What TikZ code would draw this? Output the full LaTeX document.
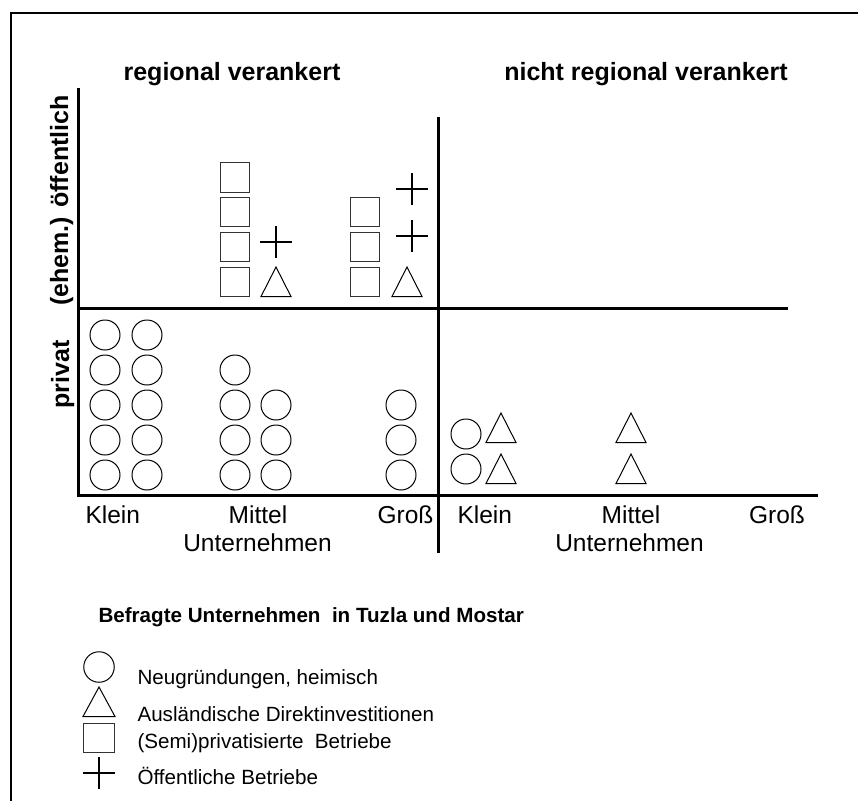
\documentclass[tikz,border=0pt]{standalone}
\usepackage{fontspec}
\setmainfont{Liberation Sans}
\usepackage{tikz}
\usetikzlibrary{shapes.geometric,shapes.misc}
\newcommand{\titlefont}[0] {\fontsize{25}{30}\selectfont\bfseries}
\newcommand{\axisfont}[0] {\fontsize{24.5}{29}\selectfont}
\newcommand{\legfont}[0] {\fontsize{20.6}{25}\selectfont}

\tikzset{
  circ/.style={shape=circle,draw=black,line width=1pt,minimum size=30pt,inner sep=0pt},
  sq/.style={shape=rectangle,draw=black!80,line width=1pt,minimum size=29.5pt,inner sep=0pt},
  tri/.style={shape=isosceles triangle,isosceles triangle stretches,shape border rotate=90,
    draw=black,line width=1pt,minimum width=30pt,minimum height=29.5pt,inner sep=0pt,anchor=lower side},
  crs/.style={shape=cross out,rotate=45,draw=black,line width=1.1pt,minimum size=21.5pt,inner sep=0pt},
  axis/.style={line width=3pt},
}

\begin{document}
\begin{tikzpicture}[x=1pt,y=-1pt]
        \useasboundingbox (0,0) rectangle (858,800);
        \draw[line width=2.5pt] (11,810) -- (11,13) -- (870,13);

        % axes
        \coordinate (top) at (78,88);
        \coordinate (o) at (78,495);
        \coordinate (xend) at (818,495);
        \coordinate (ml) at (78,308);
        \coordinate (mr) at (788,308);
        \coordinate (mt) at (438,117);
        \coordinate (mb) at (438,553);
        \draw[axis] (top) -- (o) -- (xend);
        \draw[axis] (ml) -- (mr);
        \draw[axis] (mt) -- (mb);

        % headings
        \node[anchor=base] (reg) at (232,80) {\titlefont regional verankert};
        \node[anchor=base] (nreg) at (646,80) {\titlefont nicht regional verankert};
        \node[anchor=base,rotate=90] (oeff) at (68,200.5) {\titlefont (ehem.) öffentlich};
        \node[anchor=base,rotate=90] (priv) at (69,374.5) {\titlefont privat};

        % size classes
        \node[anchor=base west] (k1) at (82,523) {\axisfont Klein};
        \node[anchor=base] (m1) at (258,523) {\axisfont Mittel};
        \node[anchor=base] (u1) at (257.5,551) {\axisfont Unternehmen};
        \node[anchor=base] (g1) at (405.5,523) {\axisfont Groß};
        \node[anchor=base west] (k2) at (454,523) {\axisfont Klein};
        \node[anchor=base] (m2) at (631,523) {\axisfont Mittel};
        \node[anchor=base] (u2) at (629.5,551) {\axisfont Unternehmen};
        \node[anchor=base] (g2) at (777,523) {\axisfont Groß};

        % public, regional
        \node[sq] (s1) at (235,177.5) {};
        \node[sq] (s2) at (235,212) {};
        \node[sq] (s3) at (235,247) {};
        \node[sq] (s4) at (235,282) {};
        \node[crs] (p1) at (276,242) {};
        \node[tri] (t1) at (276,297) {};
        \node[sq] (s5) at (365,212) {};
        \node[sq] (s6) at (365,247) {};
        \node[sq] (s7) at (365,282) {};
        \node[crs] (p2) at (412,189) {};
        \node[crs] (p3) at (412,236) {};
        \node[tri] (t2) at (407,297) {};

        % private, regional
        \node[circ] (c1) at (105,335) {};
        \node[circ] (c2) at (105,370) {};
        \node[circ] (c3) at (105,405) {};
        \node[circ] (c4) at (105,440) {};
        \node[circ] (c5) at (105,475) {};
        \node[circ] (c6) at (147,335) {};
        \node[circ] (c7) at (147,370) {};
        \node[circ] (c8) at (147,405) {};
        \node[circ] (c9) at (147,440) {};
        \node[circ] (c10) at (147,475) {};
        \node[circ] (c11) at (235,370) {};
        \node[circ] (c12) at (235,405) {};
        \node[circ] (c13) at (235,440) {};
        \node[circ] (c14) at (235,475) {};
        \node[circ] (c15) at (276,405) {};
        \node[circ] (c16) at (276,440) {};
        \node[circ] (c17) at (276,475) {};
        \node[circ] (c18) at (401,405) {};
        \node[circ] (c19) at (401,440) {};
        \node[circ] (c20) at (401,475) {};

        % private, not regional
        \node[circ] (c21) at (466,434) {};
        \node[circ] (c22) at (466,469) {};
        \node[tri] (t3) at (501,443) {};
        \node[tri] (t4) at (501,484) {};
        \node[tri] (t5) at (631,443) {};
        \node[tri] (t6) at (631,484) {};

        % legend
        \node[anchor=base west] (leg) at (95,622) {\legfont\bfseries Befragte Unternehmen\ \ in Tuzla und Mostar};
        \node[circ,minimum size=30.5pt] (lc) at (99,667) {};
        \node[anchor=base west] (lct) at (134,684.5) {\legfont Neugründungen, heimisch};
        \node[tri,minimum width=32pt] (lt) at (99,717) {};
        \node[anchor=base west] (ltt) at (134,721.5) {\legfont Ausländische Direktinvestitionen};
        \node[sq,minimum width=31pt,minimum height=29pt] (ls) at (98.5,737.5) {};
        \node[anchor=base west] (lst) at (134,748.5) {\legfont (Semi)privatisierte\ \ Betriebe};
        \node[crs] (lp) at (99,773) {};
        \node[anchor=base west] (lpt) at (134,784.5) {\legfont Öffentliche Betriebe};
\end{tikzpicture}
\end{document}
